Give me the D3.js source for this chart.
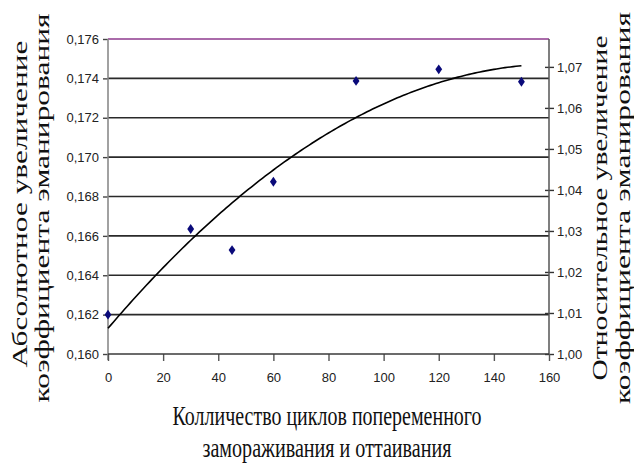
<!DOCTYPE html>
<html>
<head>
<meta charset="utf-8">
<script src="https://cdn.jsdelivr.net/npm/d3@7/dist/d3.min.js"></script>
<style>
  html, body { margin: 0; padding: 0; background: #fff; }
  svg { display: block; }
</style>
</head>
<body>
<svg id="chart" width="634" height="464"></svg>
<script>
// Number of freeze–thaw cycles and measured emanation coefficient
const cycles = [0, 30, 45, 60, 90, 120, 150];
const emanation = [0.1620, 0.16635, 0.16528, 0.16875, 0.17387, 0.17446, 0.17383];

// Axis ticks
const xTicks = [0, 20, 40, 60, 80, 100, 120, 140, 160];
const leftTicks = [0.160, 0.162, 0.164, 0.166, 0.168, 0.170, 0.172, 0.174, 0.176];
const rightTicks = [1.00, 1.01, 1.02, 1.03, 1.04, 1.05, 1.06, 1.07];
const leftDomain = [0.160, 0.176];
const rightDomain = [1.00, 1.0768];

const svg = d3.select("#chart");
const W = 634, H = 464;
svg.append("rect").attr("width", W).attr("height", H).attr("fill", "#fff");

const plot = { left: 108, right: 549, top: 39, bottom: 354 };

const x = d3.scaleLinear().domain([0, 160]).range([plot.left, plot.right]);
const yL = d3.scaleLinear().domain(leftDomain).range([plot.bottom, plot.top]);
const yR = d3.scaleLinear().domain(rightDomain).range([plot.bottom, plot.top]);

const fmt2 = v => d3.format(".2f")(v).replace(".", ",");
const fmt3 = v => d3.format(".3f")(v).replace(".", ",");
const tickFont = "'Liberation Sans', Arial, sans-serif";

// Horizontal gridlines at the left-axis ticks
svg.append("g").selectAll("line")
  .data(leftTicks.filter(t => t > leftDomain[0] && t < leftDomain[1]))
  .join("line")
  .attr("x1", plot.left).attr("x2", plot.right)
  .attr("y1", d => yL(d)).attr("y2", d => yL(d))
  .attr("stroke", "#2a2a2a").attr("stroke-width", 1.6);

// Top border line
svg.append("line")
  .attr("x1", plot.left).attr("x2", plot.right)
  .attr("y1", yL(leftDomain[1])).attr("y2", yL(leftDomain[1]))
  .attr("stroke", "#8e3a8e").attr("stroke-width", 1.5);

// Left axis
const gL = svg.append("g").attr("transform", `translate(${plot.left},0)`)
  .call(d3.axisLeft(yL).tickValues(leftTicks).tickFormat(fmt3).tickSize(5).tickPadding(4));
gL.select(".domain").remove();
gL.selectAll(".tick line").attr("stroke", "#444").attr("stroke-width", 1.4);
gL.selectAll(".tick text").attr("font-family", tickFont).attr("font-size", 13).attr("fill", "#222");
svg.append("line")
  .attr("x1", plot.left).attr("x2", plot.left)
  .attr("y1", plot.top).attr("y2", plot.bottom + 6)
  .attr("stroke", "#8a8a8a").attr("stroke-width", 1.6);

// Right axis
const gR = svg.append("g").attr("transform", `translate(${plot.right},0)`)
  .call(d3.axisRight(yR).tickValues(rightTicks).tickFormat(fmt2).tickSize(5).tickPadding(3));
gR.select(".domain").remove();
gR.selectAll(".tick line").attr("x1", -4).attr("stroke", "#333").attr("stroke-width", 1.4);
gR.selectAll(".tick text").attr("font-family", tickFont).attr("font-size", 13).attr("fill", "#222");
svg.append("line")
  .attr("x1", plot.right).attr("x2", plot.right)
  .attr("y1", plot.top).attr("y2", plot.bottom)
  .attr("stroke", "#555").attr("stroke-width", 1.5);

// Bottom axis
const gB = svg.append("g").attr("transform", `translate(0,${plot.bottom})`)
  .call(d3.axisBottom(x).tickValues(xTicks).tickFormat(d3.format("d")).tickSize(7).tickPadding(12));
gB.select(".domain").remove();
gB.selectAll(".tick line").attr("stroke", "#555").attr("stroke-width", 1.4);
gB.selectAll(".tick text").attr("font-family", tickFont).attr("font-size", 13).attr("fill", "#222");
svg.append("line")
  .attr("x1", plot.left).attr("x2", plot.right)
  .attr("y1", plot.bottom).attr("y2", plot.bottom)
  .attr("stroke", "#3a3a3a").attr("stroke-width", 1.6);

// Second-order polynomial trend (least squares over the measured points)
function quadFit(xs, ys) {
  const S = k => d3.sum(xs, v => Math.pow(v, k));
  const T = k => d3.sum(xs, (v, i) => Math.pow(v, k) * ys[i]);
  const A = [[S(0), S(1), S(2), T(0)], [S(1), S(2), S(3), T(1)], [S(2), S(3), S(4), T(2)]];
  for (let i = 0; i < 3; i++) {
    for (let r = i + 1; r < 3; r++) {
      const f = A[r][i] / A[i][i];
      for (let c = i; c < 4; c++) A[r][c] -= f * A[i][c];
    }
  }
  const c = [0, 0, 0];
  for (let i = 2; i >= 0; i--) {
    let s = A[i][3];
    for (let j = i + 1; j < 3; j++) s -= A[i][j] * c[j];
    c[i] = s / A[i][i];
  }
  return c;
}
const coef = quadFit(cycles, emanation);
const trend = d3.range(d3.min(cycles), d3.max(cycles) + 0.5, 1)
  .map(t => [t, coef[0] + coef[1] * t + coef[2] * t * t]);
svg.append("path")
  .datum(trend)
  .attr("d", d3.line().x(d => x(d[0])).y(d => yL(d[1])))
  .attr("fill", "none").attr("stroke", "#000").attr("stroke-width", 1.6);

// Measured points (diamonds)
svg.append("g").selectAll("path")
  .data(cycles.map((c, i) => [c, emanation[i]]))
  .join("path")
  .attr("transform", d => `translate(${x(d[0])},${yL(d[1])}) scale(1.2,1)`)
  .attr("d", d3.symbol(d3.symbolDiamond, 28))
  .attr("fill", "#0a0a7a");

// Axis titles
const serif = "'Liberation Serif', 'Times New Roman', serif";
const xTitle = [
  { text: "Колличество циклов попеременного", y: 425, len: 309 },
  { text: "замораживания и оттаивания", y: 457, len: 249 }
];
svg.append("g").selectAll("text").data(xTitle).join("text")
  .attr("x", 327).attr("y", d => d.y)
  .attr("text-anchor", "middle")
  .attr("font-family", serif).attr("font-size", 28).attr("fill", "#111")
  .attr("textLength", d => d.len).attr("lengthAdjust", "spacingAndGlyphs")
  .text(d => d.text);

const yTitles = [
  { text: "Абсолютное увеличение", x: 27, cy: 204, len: 327 },
  { text: "коэффициента эманирования", x: 49, cy: 208, len: 389 },
  { text: "Относительное увеличение", x: 607, cy: 208, len: 345 },
  { text: "коэффициента эманирования", x: 630, cy: 208, len: 392 }
];
svg.append("g").selectAll("text").data(yTitles).join("text")
  .attr("transform", d => `translate(${d.x},${d.cy}) scale(0.68,1) rotate(-90)`)
  .attr("text-anchor", "middle")
  .attr("font-family", serif).attr("font-size", 30).attr("fill", "#111")
  .attr("textLength", d => d.len).attr("lengthAdjust", "spacingAndGlyphs")
  .text(d => d.text);
</script>
</body>
</html>
